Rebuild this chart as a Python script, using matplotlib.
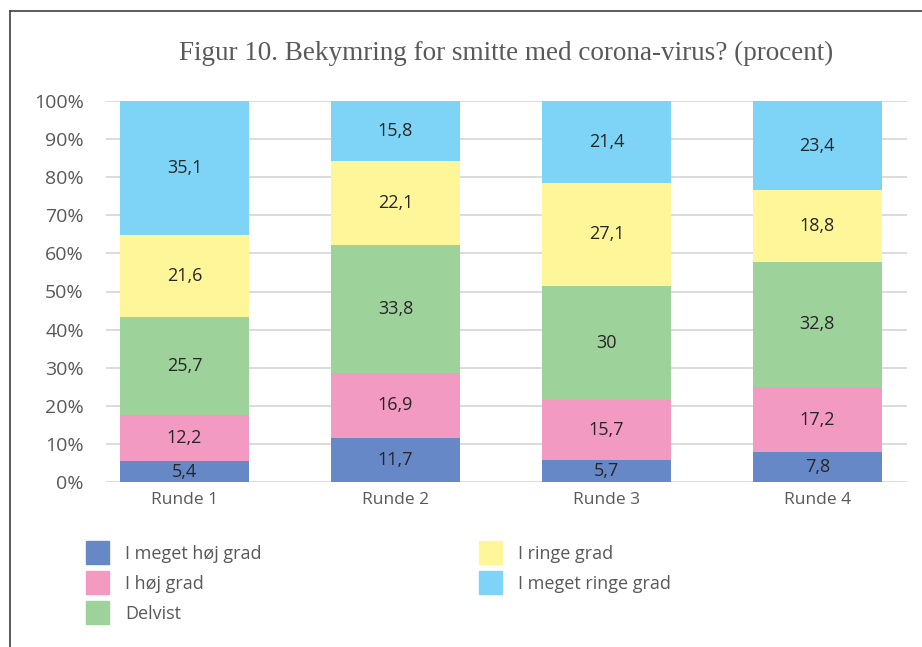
import numpy as np
import matplotlib
matplotlib.use('Agg')
from matplotlib import pyplot as plt
from matplotlib.lines import Line2D
from matplotlib.patches import Rectangle

# data
rounds = ['Runde 1', 'Runde 2', 'Runde 3', 'Runde 4']
series = ['I meget høj grad', 'I høj grad', 'Delvist', 'I ringe grad', 'I meget ringe grad']
meget_hoj = [5.4, 11.7, 5.7, 7.8]
hoj = [12.2, 16.9, 15.7, 17.2]
delvist = [25.7, 33.8, 30, 32.8]
ringe = [21.6, 22.1, 27.1, 18.8]
meget_ringe = [35.1, 15.8, 21.4, 23.4]
colors = ['#6688C7', '#F39AC2', '#9ED29B', '#FFF69A', '#7ED4F6']
yticks = [0, 10, 20, 30, 40, 50, 60, 70, 80, 90, 100]

W, H = 922, 647
fig = plt.figure(figsize=(W / 100, H / 100), dpi=100)
ax = fig.add_axes([106 / W, 1 - 482 / H, (907 - 106) / W, (482 - 101) / H])

vals = np.array([meget_hoj, hoj, delvist, ringe, meget_ringe], dtype=float)
pct = vals / vals.sum(axis=0) * 100
x = np.arange(len(rounds))
bottom = np.zeros(len(rounds))
for i in range(len(series)):
    ax.bar(x, pct[i], 0.61, bottom=bottom, color=colors[i], zorder=2)
    for j in range(len(rounds)):
        v = vals[i, j]
        lab = ('%g' % v).replace('.', ',')
        ax.text(x[j], bottom[j] + pct[i, j] / 2, lab, ha='center', va='center',
                fontsize=13, color='#262626', family='Open Sans', zorder=3)
    bottom += pct[i]

ax.set_xlim(-0.372, 3.425)
ax.set_ylim(0, 100)
ax.set_yticks(yticks)
ax.set_yticklabels(['%d%%' % t for t in yticks], family='Open Sans', fontsize=14, color='#595959')
ax.set_xticks(x)
ax.set_xticklabels(rounds, family='Open Sans', fontsize=12.5, color='#595959')
ax.tick_params(length=0, pad=7)
ax.tick_params(axis='y', pad=16)
ax.yaxis.grid(True, color='#D9D9D9', lw=1.3, zorder=0)
for s in ax.spines.values():
    s.set_visible(False)

fig.text(506 / W, 1 - 53 / H, 'Figur 10. Bekymring for smitte med corona-virus? (procent)',
         ha='center', va='center', fontsize=19.5, color='#595959', family='Liberation Serif')

# legend, two columns
legend_pos = [(86, 552), (86, 582), (86, 612), (479, 552), (479, 582)]
for i, name in enumerate(series):
    lx, ly = legend_pos[i]
    fig.patches.append(Rectangle((lx / W, 1 - (ly + 11.5) / H), 23 / W, 23 / H,
                                 transform=fig.transFigure, color=colors[i]))
    fig.text((lx + 39) / W, 1 - (ly + 2) / H, name, ha='left', va='center',
             fontsize=13, color='#595959', family='Open Sans')

# frame around the figure (top and left visible)
fig.lines.append(Line2D([10 / W, 10 / W], [0, 1 - 11 / H], transform=fig.transFigure,
                        color='#404040', lw=1.2))
fig.lines.append(Line2D([10 / W, 1], [1 - 11 / H, 1 - 11 / H], transform=fig.transFigure,
                        color='#404040', lw=1.2))

fig.savefig('out.png', dpi=100)
